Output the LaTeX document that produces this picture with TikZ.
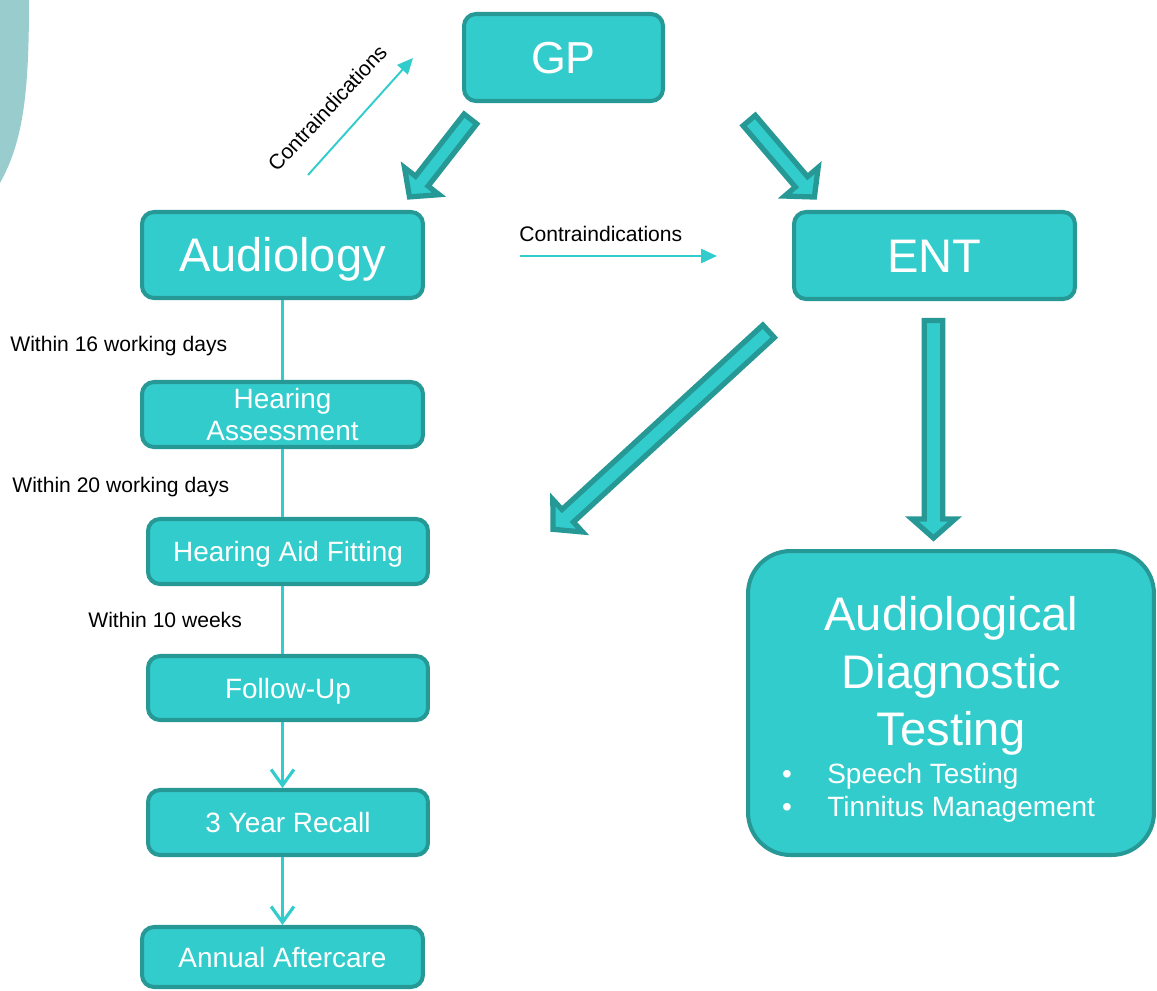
\documentclass[tikz,border=0pt]{standalone}
\usepackage{fontspec}
\setmainfont{Liberation Sans}
\usetikzlibrary{calc,arrows.meta}
\definecolor{fillc}{RGB}{51,204,204}
\definecolor{bordc}{RGB}{38,153,150}
\definecolor{bgc}{RGB}{153,204,204}
% #1 name, #2 tail, #3 tip, #4 shaft half width, #5 head half width, #6 head length
\newcommand{\blockarr}[6]{%
  \coordinate (#1c) at ($(#3)!#6!(#2)$);
  \draw[barrow] ($(#2)!#4!90:(#3)$) -- ($(#1c)!#4!90:(#3)$) -- ($(#1c)!#5!90:(#3)$)
    -- (#3) -- ($(#1c)!#5!-90:(#3)$) -- ($(#1c)!#4!-90:(#3)$) -- ($(#2)!#4!-90:(#3)$) -- cycle;}
\begin{document}
\begin{tikzpicture}[x=0.02cm,y=-0.02cm,
  box/.style={draw=bordc, fill=fillc, line width=2.3pt, rounded corners=6.8pt, text=white, inner sep=0pt},
  bigt/.style={font=\fontsize{26.8}{32}\selectfont, text height=19.2pt, text depth=0pt},
  gpt/.style={font=\fontsize{25.5}{30}\selectfont, text height=18.3pt, text depth=0pt},
  medt/.style={font=\fontsize{15.9}{18.1}\selectfont, text height=11.4pt, text depth=0pt},
  medf/.style={font=\fontsize{15.9}{18.1}\selectfont},
  adtt/.style={font=\fontsize{26.8}{32}\selectfont, text=white, inner sep=0pt},
  bult/.style={font=\fontsize{15.9}{18.1}\selectfont, text=white, inner sep=0pt},
  lbl/.style={font=\fontsize{12}{14}\selectfont, inner sep=0pt, text=black},
  vline/.style={draw=fillc, line width=1.8pt},
  vtip/.style={-{Straight Barb[length=9pt,width=13pt,line width=1.8pt]}},
  carr/.style={draw=fillc, line width=1.1pt, -{Triangle[length=9pt,width=8pt]}},
  barrow/.style={draw=bordc, fill=fillc, line width=3pt, line join=miter}]
\useasboundingbox (0,0) rectangle (1157,991);
% background decoration
\fill[bgc] (0,0) -- (29,0) .. controls (29,90) and (24,140) .. (0,183) -- cycle;

% boxes
\node[box,gpt,minimum width=3.98cm,minimum height=1.74cm] (gp) at (563.5,57.5) {GP};
\node[box,bigt,minimum width=5.62cm,minimum height=1.72cm] (aud) at (282.5,255) {Audiology};
\node[box,bigt,minimum width=5.62cm,minimum height=1.74cm] (ent) at (934.5,255.5) {ENT};
\node[box,medf,align=center,minimum width=5.62cm,minimum height=1.30cm] (has) at (282.5,414.5) {Hearing\\Assessment};
\node[box,medt,minimum width=5.60cm,minimum height=1.30cm] (haf) at (288,551.5) {Hearing Aid Fitting};
\node[box,medt,minimum width=5.60cm,minimum height=1.28cm] (fu) at (288,688) {Follow-Up};
\node[box,medt,minimum width=5.60cm,minimum height=1.30cm] (yr) at (288,822.5) {3 Year Recall};
\node[box,medt,minimum width=5.62cm,minimum height=1.20cm] (aa) at (282.5,957) {Annual Aftercare};
\node[box,rounded corners=0.85cm,minimum width=8.12cm,minimum height=6.08cm] (adt) at (951,703) {};

% ADT texts
\node[adtt,anchor=base] (t1) at (951.5,630) {Audiological};
\node[adtt,anchor=base] (t2) at (951.5,688) {Diagnostic};
\node[adtt,anchor=base] (t3) at (951.5,745) {Testing};
\node[bult,anchor=base] (b1dot) at (787,783) {•};
\node[bult,anchor=base west] (b1txt) at (827,783) {Speech Testing};
\node[bult,anchor=base] (b2dot) at (787,816) {•};
\node[bult,anchor=base west] (b2txt) at (827,816) {Tinnitus Management};

% labels
\node[lbl,anchor=base west] (l16) at (10,351) {Within 16 working days};
\node[lbl,anchor=base west] (l20) at (12,492) {Within 20 working days};
\node[lbl,anchor=base west] (l10) at (88,627) {Within 10 weeks};
\node[lbl,anchor=base west] (c2) at (519,241) {Contraindications};
\node[lbl,anchor=base west,rotate=47] (c1) at (277,173) {Contraindications};

% thin connectors
\draw[vline] (aud.south) -- (aud.south |- has.north);
\draw[vline] (aud.south |- has.south) -- (aud.south |- haf.north);
\draw[vline] (aud.south |- haf.south) -- (aud.south |- fu.north);
\draw[vline,vtip] (aud.south |- fu.south) -- (aud.south |- yr.north);
\draw[vline,vtip] (aud.south |- yr.south) -- (aud.south |- aa.north);

% contraindication arrows
\coordinate (c1s) at (308,175);
\coordinate (c1e) at (413,58);
\draw[carr] (c1s) -- (c1e);
\coordinate (c2s) at (520,256);
\coordinate (c2e) at (717,256);
\draw[carr] (c2s) -- (c2e);

% block arrows
\coordinate (b1a) at (470.4,119);
\coordinate (b1b) at (409.5,196.9);
\blockarr{b1}{b1a}{b1b}{0.16cm}{0.44cm}{0.40cm}
\coordinate (b2a) at (749.2,120.5);
\coordinate (b2b) at (814.4,197);
\blockarr{b2}{b2a}{b2b}{0.16cm}{0.44cm}{0.40cm}
\coordinate (b3a) at (768.6,331.3);
\coordinate (b3b) at (553,529.3);
\blockarr{b3}{b3a}{b3b}{0.17cm}{0.44cm}{0.40cm}
\coordinate (b4a) at (933.5,320.6);
\coordinate (b4b) at (933.5,538);
\blockarr{b4}{b4a}{b4b}{0.185cm}{0.43cm}{0.38cm}
\end{tikzpicture}
\end{document}
